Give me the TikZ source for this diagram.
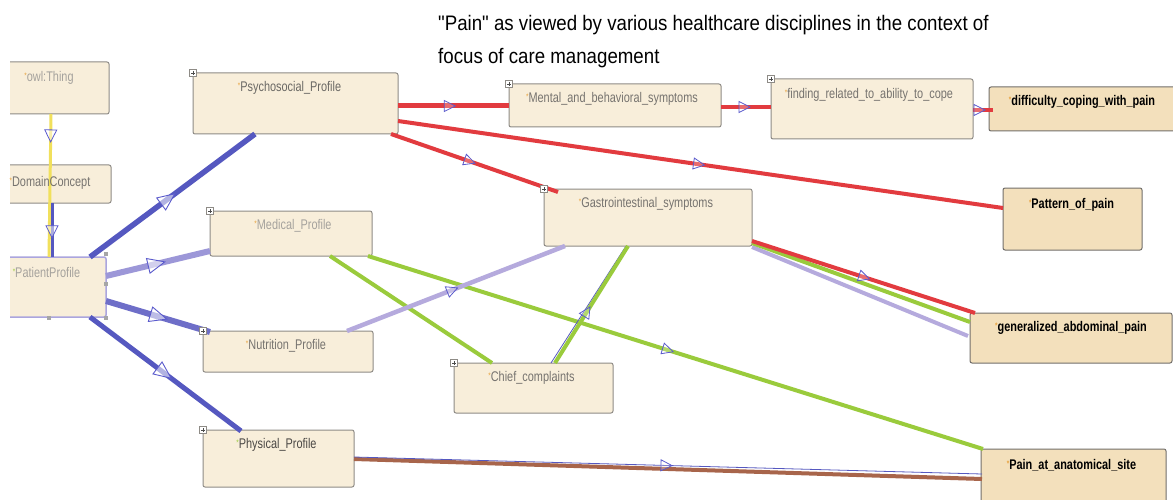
\documentclass[tikz,border=0pt]{standalone}
\usepackage{fontspec}
\setmainfont{Liberation Sans}
\newfontfamily\nodefont[FakeStretch=0.78]{Liberation Sans}
\newfontfamily\titlefont[FakeStretch=0.89]{Liberation Sans}
\usetikzlibrary{calc,decorations.markings}

% palette
\definecolor{boxfill}{HTML}{F8EEDA}
\definecolor{leaffill}{HTML}{F3E0BC}
\definecolor{boxline}{HTML}{8E8B86}
\definecolor{selline}{HTML}{ABA5DE}
\definecolor{txtlight}{HTML}{A5A29D}
\definecolor{txtmid}{HTML}{76736F}
\definecolor{txtdark}{HTML}{4A4744}
\definecolor{edgered}{HTML}{E23B3F}
\definecolor{edgegreen}{HTML}{9ACB3C}
\definecolor{edgelav}{HTML}{B5AADD}
\definecolor{edgeblue}{HTML}{5558C0}
\definecolor{edgeblueb}{HTML}{6E6EC8}
\definecolor{edgeviolet}{HTML}{9C97D8}
\definecolor{edgebrown}{HTML}{A8654B}
\definecolor{edgeyellow}{HTML}{F1E05C}
\definecolor{tricol}{HTML}{5A5ACC}
\definecolor{starorange}{HTML}{E8A23C}
\definecolor{stargreen}{HTML}{9ACB3C}

\newcommand\cstar[1][starorange]{\textcolor{#1}{\fontsize{8}{8}\selectfont\raisebox{3pt}{*}}}

\tikzset{
  box/.style={draw=boxline, fill=boxfill, rounded corners=2pt, line width=1pt,
    inner sep=0pt, outer sep=0pt, anchor=north west},
  leaf/.style={box, fill=leaffill, draw=boxline!80!black},
  lbl/.style={font=\nodefont\fontsize{14}{16}\selectfont, inner sep=0pt, text=txtmid},
  leaflbl/.style={lbl, font=\nodefont\bfseries\fontsize{14}{16}\selectfont, text=black},
  plusbox/.style={draw=boxline, fill=white, minimum size=7pt, inner sep=0pt, line width=0.5pt,
    path picture={\draw[black!70, line width=0.6pt]
      ([xshift=1.5pt]path picture bounding box.west) -- ([xshift=-1.5pt]path picture bounding box.east)
      ([yshift=-1.5pt]path picture bounding box.north) -- ([yshift=1.5pt]path picture bounding box.south);}},
  handle/.style={fill=black!35, minimum size=4pt, inner sep=0pt},
  tribig/.style={postaction={decorate}, decoration={markings,
    mark=at position #1 with {\draw[draw=tricol, line width=0.9pt, fill=white, fill opacity=0.55]
      (7,0) -- (-10,7.5) -- (-10,-7.5) -- cycle;}}},
  trimid/.style={postaction={decorate}, decoration={markings,
    mark=at position #1 with {\draw[draw=tricol, line width=0.8pt, fill=white, fill opacity=0.5]
      (5,0) -- (-7,6) -- (-7,-6) -- cycle;}}},
  trismall/.style={postaction={decorate}, decoration={markings,
    mark=at position #1 with {\draw[draw=tricol, line width=0.8pt, fill=white, fill opacity=0.25]
      (4,0) -- (-7,5.5) -- (-7,-5.5) -- cycle;}}},
}

\begin{document}
\begin{tikzpicture}[x=1pt, y=-1pt]
\useasboundingbox[fill=white] (0,0) rectangle (1173,500);

% ---- title
\node[anchor=base west, inner sep=0pt, font=\titlefont\fontsize{21}{25}\selectfont] (title1) at (438,31)
  {"Pain" as viewed by various healthcare disciplines in the context of};
\node[anchor=base west, inner sep=0pt, font=\titlefont\fontsize{21}{25}\selectfont] (title2) at (438,64)
  {focus of care management};

% ---- class boxes cut by the left border
\begin{scope}
  \clip (10,0) rectangle (300,340);
  \node[box, minimum width=114pt, minimum height=52pt] (owl) at (-5,62) {};
  \node[box, minimum width=116pt, minimum height=38pt] (dom) at (-5,165) {};
  \node[box, draw=selline, line width=1.5pt, minimum width=111pt, minimum height=60pt] (pat) at (-5,257) {};
\end{scope}
\node[handle] (pat-h1) at ($(pat.north east)+(0,-3)$) {};
\node[handle] (pat-h2) at ($(pat.north east)+(0,27)$) {};
\node[handle] (pat-h3) at ($(pat.south west)+(54,1)$) {};
\node[handle] (pat-h4) at ($(pat.south east)+(0,1)$) {};

% ---- profile boxes
\node[box, minimum width=205pt, minimum height=61pt] (psy) at (193,73) {};
\node[box, minimum width=162pt, minimum height=45pt] (med) at (210,211) {};
\node[box, minimum width=170pt, minimum height=41pt] (nut) at (203,331) {};
\node[box, minimum width=151pt, minimum height=57pt] (phy) at (203,430) {};

% ---- symptom boxes
\node[box, minimum width=212pt, minimum height=43pt] (men) at (509,84) {};
\node[box, minimum width=202pt, minimum height=60pt] (fin) at (771,79) {};
\node[box, minimum width=208pt, minimum height=57pt] (gas) at (544,189) {};
\node[box, minimum width=159pt, minimum height=50pt] (chi) at (454,363) {};

% ---- pain findings
\node[leaf, minimum width=190pt, minimum height=44pt] (dif) at (989,87) {};
\node[leaf, minimum width=139pt, minimum height=62pt] (ptn) at (1003,188) {};
\node[leaf, minimum width=202pt, minimum height=50pt] (gen) at (970,313) {};
\node[leaf, minimum width=185pt, minimum height=60pt] (pan) at (981,449) {};

% ---- subclass edges
\draw[edgeyellow, line width=3pt, trimid=0.16] ($(owl.south west)+(56,0)$) -- ($(pat.north west)+(54,0)$);
\draw[edgeblue, line width=3pt, trimid=0.55] ($(dom.south west)+(57,0)$) -- ($(pat.north west)+(57,0)$);

\draw[edgeblue, line width=5.5pt, tribig=0.48] ($(pat.north east)+(-16,0)$) -- ($(psy.south west)+(62,0)$);
\draw[edgeviolet, line width=6pt, tribig=0.5] ($(pat.north east)+(0,19)$) -- ($(med.south west)+(0,-5)$);
\draw[edgeblueb, line width=6pt, tribig=0.52] ($(pat.north east)+(0,44)$) -- ($(nut.north west)+(7,1)$);
\draw[edgeblue, line width=5pt, tribig=0.5] ($(pat.south east)+(-16,0)$) -- ($(phy.north west)+(38,1)$);

% psychosocial branch
\draw[edgered, line width=5pt, trismall=0.48] ($(psy.north east)+(0,33)$) -- ($(men.north west)+(0,22)$);
\draw[edgered, line width=4.5pt, trismall=0.5] ($(men.north east)+(0,23)$) -- ($(fin.north west)+(0,28)$);
\draw[edgered, line width=4pt, trismall=0.4] ($(fin.north east)+(0,31)$) -- ($(dif.north west)+(4,23)$);
\draw[edgered, line width=4pt, trismall=0.5] ($(psy.north east)+(0,48)$) -- ($(ptn.north west)+(0,20)$);
\draw[edgered, line width=4pt, trismall=0.48] ($(psy.south east)+(-7,0)$) -- ($(gas.north west)+(14,3)$);

% gastrointestinal to generalized pain
\draw[edgelav, line width=4pt] ($(gas.south east)+(0,1)$) -- ($(gen.north west)+(-2,23)$);
\draw[edgegreen, line width=4pt] ($(gas.south east)+(0,-3)$) -- ($(gen.north west)+(0,9)$);
\draw[edgered, line width=4pt, trismall=0.51] ($(gas.south east)+(0,-5)$) -- ($(gen.north west)+(5,0)$);

% medical branch
\draw[edgegreen, line width=4pt] ($(med.south west)+(120,0)$) -- ($(chi.north west)+(38,0)$);
\draw[edgegreen, line width=4pt, trismall=0.49] ($(med.south east)+(-4,0)$) -- ($(pan.north west)+(2,0)$);

% chief complaints and nutrition to gastrointestinal
\draw[edgeblue, line width=0.8pt] ($(chi.north west)+(97,0)$) -- ($(gas.south west)+(82,0)$);
\draw[edgegreen, line width=4pt, trismall=0.45] ($(chi.north west)+(101,0)$) -- ($(gas.south west)+(84,0)$);
\draw[edgelav, line width=4.5pt, trismall=0.49] ($(nut.north west)+(144,0)$) -- ($(gas.south west)+(21,0)$);

% physical to anatomical site
\draw[edgebrown, line width=4pt] ($(phy.north east)+(0,29)$) -- ($(pan.north west)+(1,30)$);
\draw[edgeblue, line width=0.8pt, trismall=0.5] ($(phy.north east)+(0,27)$) -- ($(pan.north west)+(1,25)$);

% ---- expander markers
\node[plusbox] (psy-p) at (psy.north west) {};
\node[plusbox] (med-p) at (med.north west) {};
\node[plusbox] (nut-p) at (nut.north west) {};
\node[plusbox] (phy-p) at (phy.north west) {};
\node[plusbox] (men-p) at (men.north west) {};
\node[plusbox] (fin-p) at (fin.north west) {};
\node[plusbox] (gas-p) at (gas.north west) {};
\node[plusbox] (chi-p) at (chi.north west) {};

% ---- labels
\node[lbl, text=txtlight] (owl-t) at ($(owl.north)+(-3,16)$) {\cstar owl:Thing};
\node[lbl, text=txtmid] (dom-t) at ($(dom.north)+(-3,18)$) {\cstar DomainConcept};
\node[lbl, text=txtlight] (pat-t) at ($(pat.north)+(-4,15)$) {\cstar[stargreen]PatientProfile};
\node[lbl, text=txtmid!90!black] (psy-t) at ($(psy.north)+(-6,15)$) {\cstar Psychosocial\_Profile};
\node[lbl, text=txtlight] (med-t) at ($(med.north)+(2,15)$) {\cstar Medical\_Profile};
\node[lbl] (nut-t) at ($(nut.north)+(-2,15)$) {\cstar Nutrition\_Profile};
\node[lbl, text=txtdark] (phy-t) at ($(phy.north)+(-2,15)$) {\cstar[stargreen]Physical\_Profile};
\node[lbl] (men-t) at ($(men.north)+(-3,15)$) {\cstar Mental\_and\_behavioral\_symptoms};
\node[lbl] (fin-t) at ($(fin.north)+(-3,16)$) {\cstar finding\_related\_to\_ability\_to\_cope};
\node[lbl] (gas-t) at ($(gas.north)+(-2,15)$) {\cstar Gastrointestinal\_symptoms};
\node[lbl] (chi-t) at ($(chi.north)+(-2,15)$) {\cstar Chief\_complaints};
\node[leaflbl] (dif-t) at ($(dif.north)+(-2,15)$) {\cstar difficulty\_coping\_with\_pain};
\node[leaflbl] (ptn-t) at ($(ptn.north)+(-1,17)$) {\cstar Pattern\_of\_pain};
\node[leaflbl] (gen-t) at ($(gen.north)+(0,15)$) {\cstar generalized\_abdominal\_pain};
\node[leaflbl] (pan-t) at ($(pan.north)+(-2,16)$) {\cstar Pain\_at\_anatomical\_site};
\end{tikzpicture}
\end{document}
